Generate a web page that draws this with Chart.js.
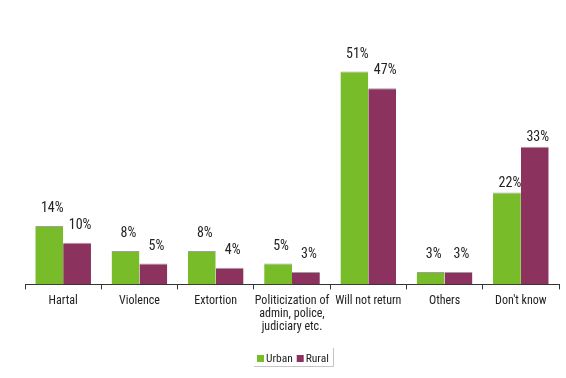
<!DOCTYPE html>
<html>
<head>
<meta charset="utf-8">
<script src="https://cdn.jsdelivr.net/npm/chart.js@4.4.1/dist/chart.umd.min.js"></script>
<style>
  html, body { margin: 0; padding: 0; background: #fff; }
  #wrap { width: 566px; height: 378px; }
</style>
</head>
<body>
<div id="wrap"><canvas id="myBarChart" width="566" height="378"></canvas></div>
<script>
// data
var categories = ['Hartal', 'Violence', 'Extortion', ['Politicization of', 'admin, police,', 'judiciary etc.'], 'Will not return', 'Others', "Don't know"];
var urbanValues = [14, 8, 8, 5, 51, 3, 22];
var ruralValues = [10, 5, 4, 3, 47, 3, 33];

var FONT = "'Roboto Condensed', 'Liberation Sans Narrow', sans-serif";

// draws the % above every bar (labels in the last group sit closer to the bars)
var valueLabels = {
  id: 'valueLabels',
  afterDatasetsDraw: function(chart) {
    var ctx = chart.ctx;
    var last = chart.data.labels.length - 1;
    ctx.save();
    ctx.font = '14px ' + FONT;
    ctx.fillStyle = '#222';
    ctx.textAlign = 'center';
    ctx.textBaseline = 'alphabetic';
    chart.data.datasets.forEach(function(ds, i) {
      chart.getDatasetMeta(i).data.forEach(function(bar, j) {
        var gap = j === last ? 6 : 14;
        ctx.fillText(ds.data[j] + '%', bar.x + 3, bar.y - gap);
      });
    });
    ctx.restore();
  }
};

// small legend under the chart, with a shadow-like frame on the right and bottom
var smallLegend = {
  id: 'smallLegend',
  afterDraw: function(chart) {
    var ctx = chart.ctx;
    var x = 257, y = 355;
    ctx.save();
    ctx.font = '11.5px ' + FONT;
    ctx.textBaseline = 'middle';
    chart.data.datasets.forEach(function(ds) {
      ctx.fillStyle = ds.backgroundColor;
      ctx.fillRect(x, y, 7, 7);
      ctx.fillStyle = '#222';
      ctx.fillText(ds.label, x + 9, y + 4);
      x += 9 + ctx.measureText(ds.label).width + 4;
    });
    ctx.strokeStyle = '#c4c4c4';
    ctx.lineWidth = 1;
    ctx.beginPath();
    ctx.moveTo(254, 366.5);
    ctx.lineTo(333.5, 366.5);
    ctx.lineTo(333.5, 348);
    ctx.stroke();
    ctx.restore();
  }
};

var ctx = document.getElementById('myBarChart').getContext('2d');
var myBarChart = new Chart(ctx, {
  type: 'bar',
  data: {
    labels: categories,
    datasets: [{
      label: 'Urban',
      data: urbanValues,
      backgroundColor: 'rgb(120, 188, 42)',
      borderColor: 'rgba(80, 80, 80, 0.55)',
      borderWidth: { top: 1, left: 0, right: 0, bottom: 0 },
      barPercentage: 1,
      categoryPercentage: 0.73
    }, {
      label: 'Rural',
      data: ruralValues,
      backgroundColor: 'rgb(140, 50, 94)',
      borderColor: 'rgba(80, 80, 80, 0.55)',
      borderWidth: { top: 1, left: 0, right: 0, bottom: 0 },
      barPercentage: 1,
      categoryPercentage: 0.73
    }]
  },
  options: {
    responsive: false,
    animation: false,
    layout: { padding: { left: 25, right: 7, top: 34, bottom: 39 } },
    scales: {
      x: {
        grid: {
          offset: true,
          drawOnChartArea: false,
          drawTicks: true,
          tickLength: 5,
          color: '#333'
        },
        border: { display: true, color: '#333', width: 1 },
        ticks: {
          color: '#222',
          font: { family: FONT, size: 12, lineHeight: 1.1 },
          maxRotation: 0,
          autoSkip: false,
          padding: 5
        }
      },
      y: {
        display: false,
        min: 0,
        max: 60
      }
    },
    plugins: {
      legend: { display: false },
      tooltip: { enabled: false }
    }
  },
  plugins: [valueLabels, smallLegend]
});
</script>
</body>
</html>
